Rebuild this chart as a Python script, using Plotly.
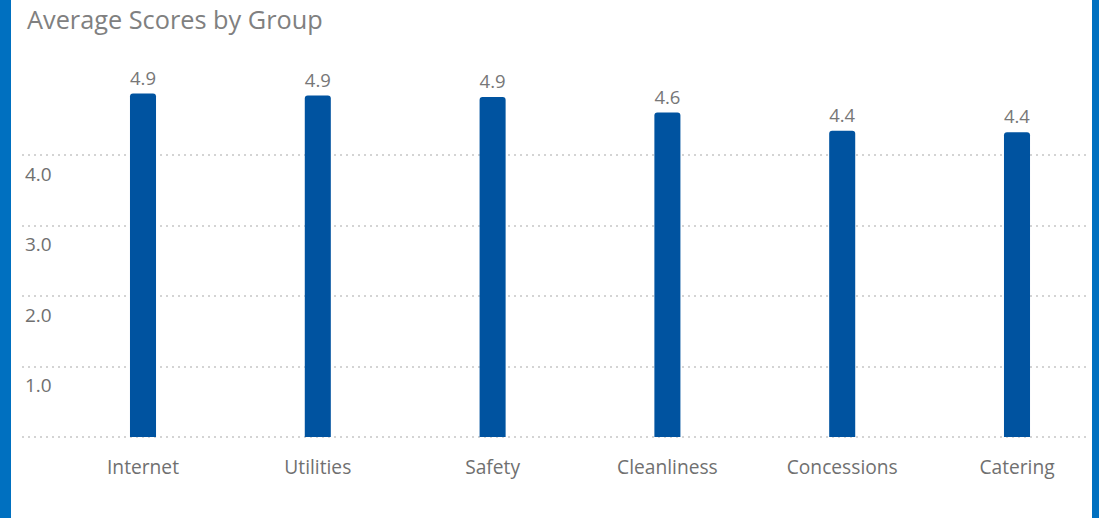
import plotly.graph_objects as go

categories = ["Internet", "Utilities", "Safety", "Cleanliness", "Concessions", "Catering"]
scores = [4.88, 4.85, 4.83, 4.61, 4.35, 4.33]
score_labels = ["4.9", "4.9", "4.9", "4.6", "4.4", "4.4"]
y_tick_vals = [0, 1, 2, 3, 4]
y_tick_text = ["", "1.0", "2.0", "3.0", "4.0"]

W, H = 1099, 518
L, R, T, B = 22, 11, 60, 79
pw = W - L - R
ph = H - T - B
px_unit = 70.4
zero_px = 437
y_lo = -((H - B) - zero_px) / px_unit
y_hi = (zero_px - T) / px_unit

fig = go.Figure(go.Bar(
    x=categories, y=scores, text=score_labels,
    textposition="outside", cliponaxis=False,
    textfont=dict(size=19, color="#777777", family="Open Sans"),
    marker=dict(color="#0053A0", line=dict(width=0)),
    width=0.149, hoverinfo="x+y",
))

cat_step = 174.8
first_center = 143
x_lo = (L - first_center) / cat_step
x_hi = (W - R - first_center) / cat_step

fig.update_layout(
    width=W, height=H,
    margin=dict(l=L, r=R, t=T, b=B),
    paper_bgcolor="white", plot_bgcolor="white",
    font=dict(family="Open Sans", color="#707070"),
    showlegend=False,
    barcornerradius=3,
    title=dict(text="Average Scores by Group", x=27 / W, xref="container", xanchor="left",
               y=1 - 20 / H, yref="container", yanchor="middle",
               font=dict(size=25.3, color="#808080", family="Open Sans")),
    xaxis=dict(range=[x_lo, x_hi], showgrid=False, zeroline=False, showline=False,
               ticks="", tickfont=dict(size=19.2, color="#707070"), ticklabelstandoff=15,
               fixedrange=True),
    yaxis=dict(range=[y_lo, y_hi], tickvals=y_tick_vals, ticktext=y_tick_text,
               showgrid=True, gridcolor="#d4d4d4", gridwidth=2, griddash="2px,4px",
               zeroline=False, showline=False, ticks="",
               ticklabelposition="inside", ticklabelshift=19,
               tickfont=dict(size=19, color="#707070"), fixedrange=True),
    shapes=[
        dict(type="rect", xref="paper", yref="paper",
             x0=-L / pw, x1=(11 - L) / pw, y0=-B / ph, y1=1 + T / ph,
             fillcolor="#0070C0", line=dict(width=0), layer="above"),
        dict(type="rect", xref="paper", yref="paper",
             x0=(1092 - L) / pw, x1=(W - L) / pw, y0=-B / ph, y1=1 + T / ph,
             fillcolor="#0070C0", line=dict(width=0), layer="above"),
    ],
)

fig.write_html("out.html", config={"displayModeBar": False},
               post_script="document.body.style.margin='0';document.body.style.overflow='hidden';")
